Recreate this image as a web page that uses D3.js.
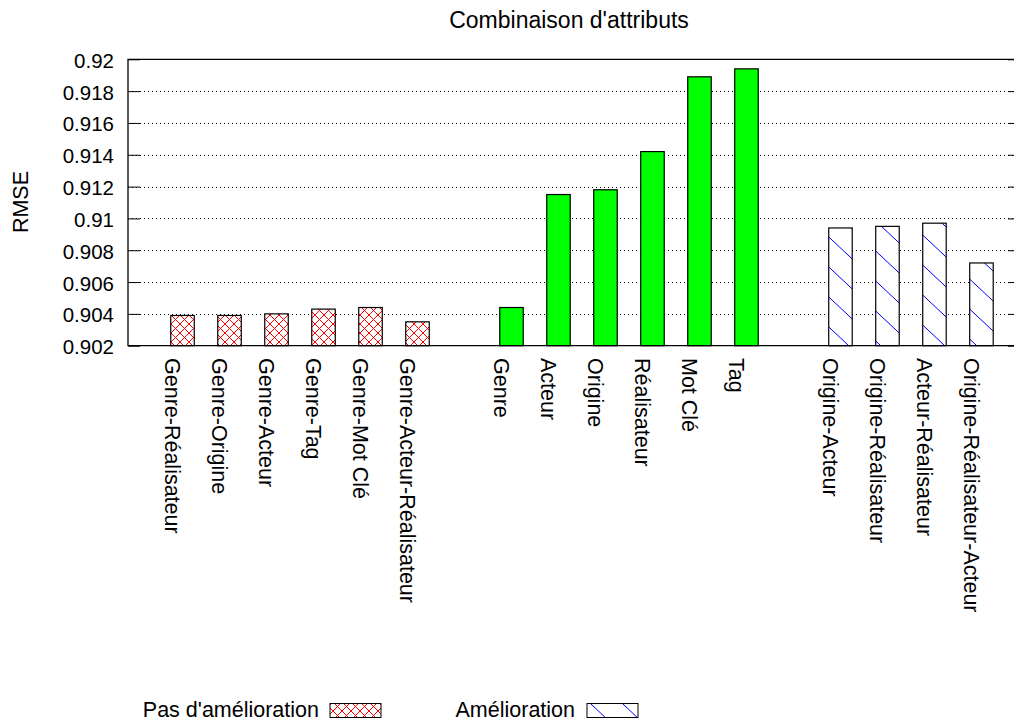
<!DOCTYPE html>
<html>
<head>
<meta charset="utf-8">
<script src="https://cdn.jsdelivr.net/npm/d3@7"></script>
<style>
  html, body { margin: 0; padding: 0; background: #fff; }
  svg { display: block; }
  text { font-family: "Liberation Sans", Arial, sans-serif; fill: #000; }
</style>
</head>
<body>
<div id="chart"></div>
<script>
// ---- data ----
const title = "Combinaison d'attributs";
const yLabel = "RMSE";

const labelsNoImprov = ["Genre-Réalisateur", "Genre-Origine", "Genre-Acteur", "Genre-Tag", "Genre-Mot Clé", "Genre-Acteur-Réalisateur"];
const valuesNoImprov = [0.9039, 0.9039, 0.9040, 0.9043, 0.9044, 0.9035];

const labelsSingle = ["Genre", "Acteur", "Origine", "Réalisateur", "Mot Clé", "Tag"];
const valuesSingle = [0.9044, 0.9115, 0.9118, 0.9142, 0.9189, 0.9194];

const labelsImprov = ["Origine-Acteur", "Origine-Réalisateur", "Acteur-Réalisateur", "Origine-Réalisateur-Acteur"];
const valuesImprov = [0.9094, 0.9095, 0.9097, 0.9072];

const yTickValues = [0.902, 0.904, 0.906, 0.908, 0.91, 0.912, 0.914, 0.916, 0.918, 0.92];
const yTickLabels = ["0.902", "0.904", "0.906", "0.908", "0.91", "0.912", "0.914", "0.916", "0.918", "0.92"];

const legendLabels = ["Pas d'amélioration", "Amélioration"];

(function () {
// ---- layout ----
const W = 1014, H = 725;
const pLeft = 128, pRight = 1020, pTop = 59.3, pBottom = 345.7;
const fontSize = 21.5;

const groups = [
  { labels: labelsNoImprov, values: valuesNoImprov, fill: "url(#cross)" },
  { labels: labelsSingle, values: valuesSingle, fill: "#00ff00" },
  { labels: labelsImprov, values: valuesImprov, fill: "url(#hatch)" }
];

// build bar table with slot index (one empty slot between groups)
const bars = [];
let slot = 0;
groups.forEach((g, gi) => {
  g.labels.forEach((lab, i) => {
    bars.push({ label: lab, value: g.values[i], slot: slot, fill: g.fill, group: gi });
    slot++;
  });
  slot++;
});
const lastSlot = slot - 2;

const x = d3.scaleLinear().domain([-1.16, lastSlot + 0.82]).range([pLeft, pRight]);
const y = d3.scaleLinear().domain([0.902, 0.92]).range([pBottom, pTop]);
const barW = (x(1) - x(0)) * 0.5;

const svg = d3.select("#chart").append("svg")
  .attr("width", W).attr("height", H)
  .attr("viewBox", `0 0 ${W} ${H}`);

svg.append("rect").attr("width", W).attr("height", H).attr("fill", "#fff");

const defs = svg.append("defs");
// red crosshatch
const cross = defs.append("pattern")
  .attr("id", "cross").attr("patternUnits", "userSpaceOnUse")
  .attr("width", 9).attr("height", 9);
cross.append("rect").attr("width", 9).attr("height", 9).attr("fill", "#fff");
cross.append("path").attr("d", "M0,0 L9,9 M9,0 L0,9")
  .attr("stroke", "#ff0000").attr("stroke-width", 1).attr("fill", "none");

// blue diagonal hatch
const hatch = defs.append("pattern")
  .attr("id", "hatch").attr("patternUnits", "userSpaceOnUse")
  .attr("width", 32).attr("height", 30);
hatch.append("rect").attr("width", 32).attr("height", 30).attr("fill", "#fff");
hatch.append("path").attr("d", "M0,0 L32,30 M-32,0 L0,30 M32,0 L64,30")
  .attr("stroke", "#0000ff").attr("stroke-width", 1).attr("fill", "none");

// grid lines (dotted)
const gridVals = yTickValues.filter(v => v > 0.902 && v < 0.92);
svg.append("g").selectAll("line").data(gridVals).join("line")
  .attr("x1", pLeft).attr("x2", pRight)
  .attr("y1", d => Math.round(y(d)) + 0.5).attr("y2", d => Math.round(y(d)) + 0.5)
  .attr("stroke", "#000").attr("stroke-width", 1)
  .attr("stroke-dasharray", "1,3");

// y axis ticks (left and mirrored right), inward
const yAxisL = d3.axisRight(y).tickValues(yTickValues).tickSize(12).tickFormat("");
svg.append("g").attr("transform", `translate(${pLeft},0)`).call(yAxisL)
  .call(g => g.select(".domain").remove())
  .call(g => g.selectAll("line").attr("stroke", "#000"));
const yAxisR = d3.axisLeft(y).tickValues(yTickValues).tickSize(12).tickFormat("");
svg.append("g").attr("transform", `translate(${pRight},0)`).call(yAxisR)
  .call(g => g.select(".domain").remove())
  .call(g => g.selectAll("line").attr("stroke", "#000"));

// y tick labels
svg.append("g").selectAll("text").data(yTickValues).join("text")
  .attr("x", 114).attr("y", d => y(d) + 8.5)
  .attr("text-anchor", "end")
  .attr("font-size", 20.5)
  .text((d, i) => yTickLabels[i]);

// bars
svg.append("g").selectAll("rect").data(bars).join("rect")
  .attr("x", d => x(d.slot) - barW / 2)
  .attr("y", d => y(d.value))
  .attr("width", barW)
  .attr("height", d => y(0.902) - y(d.value))
  .attr("fill", d => d.fill)
  .attr("stroke", "#000").attr("stroke-width", 1.2);

// border
svg.append("path")
  .attr("d", `M${pRight},${pTop} L${pLeft},${pTop} L${pLeft},${pBottom} L${pRight},${pBottom}`)
  .attr("fill", "none").attr("stroke", "#000").attr("stroke-width", 1.3);

// x labels (rotated)
svg.append("g").selectAll("text").data(bars).join("text")
  .attr("transform", d => `translate(${x(d.slot) - 17.5},358) rotate(90)`)
  .attr("text-anchor", "start")
  .attr("font-size", fontSize)
  .text(d => d.label);

// title
svg.append("text").attr("x", 569).attr("y", 28)
  .attr("text-anchor", "middle").attr("font-size", 23).text(title);

// y label
svg.append("text").attr("transform", `translate(28,202) rotate(-90)`)
  .attr("text-anchor", "middle").attr("font-size", fontSize).text(yLabel);

// legend
const legendItems = [
  { label: legendLabels[0], fill: "url(#cross)", textEnd: 319, sx: 330 },
  { label: legendLabels[1], fill: "url(#hatch)", textEnd: 575, sx: 587 }
];
const lg = svg.append("g");
legendItems.forEach(it => {
  lg.append("text").attr("x", it.textEnd).attr("y", 716.5)
    .attr("text-anchor", "end").attr("font-size", fontSize).text(it.label);
  lg.append("rect").attr("x", it.sx).attr("y", 703.5).attr("width", 51).attr("height", 14)
    .attr("fill", it.fill).attr("stroke", "#000").attr("stroke-width", 1);
});
})();
</script>
</body>
</html>
